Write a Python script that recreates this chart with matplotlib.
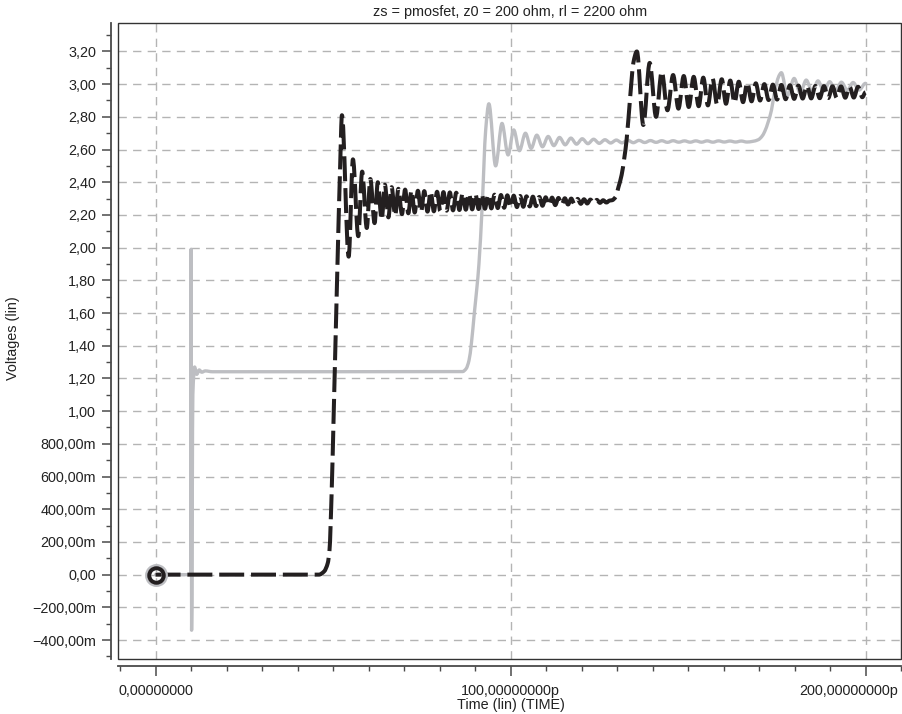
import matplotlib
matplotlib.use("Agg")
import matplotlib.pyplot as plt
from matplotlib.patches import PathPatch, Rectangle
from matplotlib.path import Path
from matplotlib.transforms import ScaledTranslation
from matplotlib.ticker import MultipleLocator, FixedLocator

plt.rcParams["font.family"] = ["Liberation Sans", "DejaVu Sans"]

TITLE = "zs = pmosfet, z0 = 200 ohm, rl = 2200 ohm"
X_LABEL = "Time (lin) (TIME)"
Y_LABEL = "Voltages (lin)"

X_TICKS = [0, 100, 200]
X_TICK_LABELS = ["0,00000000", "100,00000000p", "200,00000000p"]
Y_TICKS = [-0.4, -0.2, 0.0, 0.2, 0.4, 0.6, 0.8, 1.0, 1.2, 1.4, 1.6, 1.8,
           2.0, 2.2, 2.4, 2.6, 2.8, 3.0, 3.2]
Y_TICK_LABELS = ["\u2212400,00m", "\u2212200,00m", "0,00", "200,00m", "400,00m",
                 "600,00m", "800,00m", "1,00", "1,20", "1,40", "1,60", "1,80",
                 "2,00", "2,20", "2,40", "2,60", "2,80", "3,00", "3,20"]

# gray trace (solid): time in ps, volts
gray_t = [0.0, 9.9, 10.0, 10.15, 10.5, 11.0, 11.6, 12.3, 13.0, 14.0, 16.0,
          86.5, 87.5, 88.3, 89.0, 89.8, 90.5, 91.1, 92.0, 93.0, 93.9,
          95.8, 97.6, 99.3, 100.9, 102.5, 104.2, 105.8, 107.4, 109.0, 110.6,
          112.2, 113.8, 115.4, 117.0, 118.6, 120.2, 121.8, 123.4, 125.0, 126.6,
          128.2, 129.8, 131.4, 133.0, 134.6, 136.2, 137.8, 139.4, 141.0, 142.6,
          144.2, 145.8, 147.4, 149.0, 150.6, 152.2, 153.8, 155.4, 157.0, 158.6,
          160.2, 161.8, 163.4, 165.0, 166.6, 168.2,
          169.8, 170.8, 171.6, 172.6, 173.5, 174.2, 174.9, 175.6, 176.3,
          178.0, 179.9, 181.6, 183.3, 185.0, 186.6, 188.3, 189.9, 191.6, 193.2,
          194.9, 196.5, 198.2, 200.0]
gray_v = [0.0, 0.0, 1.99, -0.34, 1.10, 1.27, 1.225, 1.252, 1.238, 1.246, 1.241,
          1.242, 1.26, 1.31, 1.42, 1.60, 1.75, 1.90, 2.25, 2.72, 2.88,
          2.50, 2.76, 2.567, 2.72, 2.593, 2.70, 2.607, 2.688, 2.617, 2.68,
          2.624, 2.674, 2.629, 2.67, 2.633, 2.666, 2.636, 2.663, 2.638, 2.66,
          2.64, 2.658, 2.641, 2.657, 2.642, 2.656, 2.643, 2.655, 2.644, 2.654,
          2.644, 2.654, 2.645, 2.653, 2.645, 2.653, 2.645, 2.653, 2.645, 2.653,
          2.646, 2.652, 2.646, 2.652, 2.646, 2.65,
          2.66, 2.68, 2.71, 2.77, 2.84, 2.93, 3.00, 3.05, 3.07,
          2.93, 3.035, 2.945, 3.025, 2.952, 3.02, 2.957, 3.015, 2.96, 3.012,
          2.962, 3.01, 2.964, 3.005]

# black trace (dashed): time in ps, volts
black_t = [0.0, 46.0, 47.5, 48.5, 49.0, 49.6, 50.2, 51.2, 52.0, 52.5,
           54.4, 55.6, 57.1, 58.2, 59.5, 60.5, 61.7, 62.6, 63.7, 64.6,
           65.6, 66.5, 67.5, 68.4, 69.4, 70.3, 71.2, 72.1, 73.0, 73.9,
           74.8, 75.7, 76.6, 77.5, 78.4, 79.3, 80.2, 81.1, 82.0, 82.9,
           83.8, 84.7, 85.6, 86.5, 87.4, 88.3, 89.2, 90.1, 91.0, 91.9,
           92.8, 93.7, 94.6, 95.5, 96.4, 97.3, 98.2, 99.1, 100.0, 100.9,
           101.8, 102.7, 103.6, 104.5, 105.4, 106.3, 107.2, 108.1, 109.0, 109.9,
           110.8, 111.7, 112.6, 113.5, 114.4, 115.3, 116.2, 117.1, 118.0, 118.9,
           119.8, 120.7, 121.6, 122.5, 123.4, 124.3, 125.2, 126.1, 127.0, 127.9,
           128.6, 129.6, 130.4, 131.3, 132.1, 132.7, 133.7, 134.6, 135.6,
           137.4, 139.2, 141.0, 142.6, 144.2, 145.8, 147.3, 148.8, 150.2, 151.6,
           153.0, 154.3, 155.6, 156.9, 158.2, 159.5, 160.7, 161.9, 163.1, 164.3,
           165.5, 166.7, 167.9, 169.1, 170.3, 171.5, 172.7, 173.9, 175.1, 176.3,
           177.5, 178.7, 179.9, 181.1, 182.3, 183.5, 184.7, 185.9, 187.1, 188.3,
           189.5, 190.7, 191.9, 193.1, 194.3, 195.5, 196.7, 197.9, 199.1, 200.0]
black_v = [0.0, 0.0, 0.02, 0.07, 0.15, 0.50, 1.00, 1.86, 2.50, 2.81,
           1.945, 2.54, 2.07, 2.465, 2.12, 2.42, 2.15, 2.40, 2.17, 2.385,
           2.185, 2.37, 2.195, 2.36, 2.205, 2.355, 2.21, 2.35, 2.215, 2.348,
           2.218, 2.346, 2.22, 2.344, 2.222, 2.342, 2.224, 2.34, 2.226, 2.338,
           2.228, 2.336, 2.23, 2.334, 2.232, 2.332, 2.234, 2.33, 2.236, 2.328,
           2.238, 2.326, 2.24, 2.324, 2.242, 2.322, 2.244, 2.32, 2.246, 2.318,
           2.248, 2.316, 2.25, 2.314, 2.252, 2.312, 2.254, 2.31, 2.256, 2.308,
           2.258, 2.306, 2.26, 2.304, 2.262, 2.302, 2.264, 2.30, 2.266, 2.298,
           2.268, 2.296, 2.27, 2.294, 2.272, 2.292, 2.274, 2.29, 2.276, 2.288,
           2.29, 2.31, 2.37, 2.445, 2.556, 2.66, 2.92, 3.13, 3.20,
           2.75, 3.13, 2.80, 3.077, 2.84, 3.056, 2.85, 3.05, 2.86, 3.045,
           2.865, 3.04, 2.87, 3.035, 2.875, 3.03, 2.88, 3.022, 2.885, 3.015,
           2.89, 3.01, 2.895, 3.005, 2.90, 3.00, 2.903, 2.997, 2.906, 2.995,
           2.908, 2.993, 2.91, 2.991, 2.912, 2.99, 2.913, 2.989, 2.914, 2.988,
           2.915, 2.987, 2.916, 2.986, 2.917, 2.985, 2.918, 2.984, 2.92, 2.95]

GRAY = "#bdbec2"
BLACK = "#231f20"
AXIS = "#4a4a4a"


def smooth_path(t, v):
    """Cubic path through the read points, flat at each peak and trough."""
    n = len(t)
    slopes = []
    for i in range(n):
        if i == 0 or i == n - 1:
            slopes.append(0.0)
        elif (v[i] - v[i - 1]) * (v[i + 1] - v[i]) <= 0:
            slopes.append(0.0)
        else:
            s1 = (v[i] - v[i - 1]) / (t[i] - t[i - 1])
            s2 = (v[i + 1] - v[i]) / (t[i + 1] - t[i])
            slopes.append(2 * s1 * s2 / (s1 + s2))
    verts = [(t[0], v[0])]
    codes = [Path.MOVETO]
    for i in range(n - 1):
        d = (t[i + 1] - t[i]) / 3
        verts += [(t[i] + d, v[i] + d * slopes[i]),
                  (t[i + 1] - d, v[i + 1] - d * slopes[i + 1]),
                  (t[i + 1], v[i + 1])]
        codes += [Path.CURVE4] * 3
    return Path(verts, codes)


def main() -> None:
    fig = plt.figure(figsize=(9.02, 7.14), dpi=100)
    ax = fig.add_axes([118.3 / 902, 1 - 659 / 714, (901 - 118.3) / 902, (659 - 23) / 714])

    ax.set_xlim(-10.5, 210)
    ax.set_ylim(-0.516, 3.374)

    ax.grid(True, which="major", color="#b4b4b4", linestyle=(0, (6, 4.5)), linewidth=1.0)
    ax.set_axisbelow(True)

    ax.add_patch(PathPatch(smooth_path(gray_t, gray_v), fill=False, edgecolor=GRAY,
                           linewidth=2.4, joinstyle="round", capstyle="round", zorder=3))
    ax.add_patch(PathPatch(smooth_path(black_t, black_v), fill=False, edgecolor=BLACK,
                           linewidth=2.9, linestyle=(0, (6.2, 1.7)),
                           joinstyle="round", capstyle="butt", zorder=4))
    ax.plot([0], [0], marker="o", markersize=12, markerfacecolor="none",
            markeredgecolor=GRAY, markeredgewidth=4.5, zorder=5)
    ax.plot([0], [0], marker="o", markersize=10.5, markerfacecolor="none",
            markeredgecolor=BLACK, markeredgewidth=2.8, zorder=6)

    for side in ("top", "right"):
        ax.spines[side].set_visible(False)
    for side in ("left", "bottom"):
        ax.spines[side].set_position(("outward", 5))
        ax.spines[side].set_color(AXIS)
        ax.spines[side].set_linewidth(1.3)
    ax.add_patch(Rectangle((0, 0), 1, 1, transform=ax.transAxes, fill=False,
                           edgecolor="#333333", linewidth=1.0, clip_on=False, zorder=7))

    ax.xaxis.set_major_locator(FixedLocator(X_TICKS))
    ax.xaxis.set_minor_locator(MultipleLocator(10))
    ax.set_xticklabels(X_TICK_LABELS)
    ax.yaxis.set_major_locator(FixedLocator(Y_TICKS))
    ax.yaxis.set_minor_locator(MultipleLocator(0.1))
    ax.set_yticklabels(Y_TICK_LABELS)

    ax.tick_params(axis="both", which="major", direction="out", color=AXIS,
                   width=1.1, labelsize=10.4, labelcolor="#222222")
    ax.tick_params(axis="y", which="major", length=6.5, pad=4.5)
    ax.tick_params(axis="x", which="major", length=7.0, pad=6)
    ax.tick_params(axis="both", which="minor", direction="out", color=AXIS,
                   width=1.0, length=3.5)

    last = ax.get_xticklabels()[-1]
    last.set_transform(last.get_transform() + ScaledTranslation(-0.17, 0, fig.dpi_scale_trans))

    fig.text(510 / 902, 1 - 12 / 714, TITLE, ha="center", va="center",
             fontsize=10.4, color="#222222")
    fig.text(511 / 902, 1 - 705 / 714, X_LABEL, ha="center", va="center",
             fontsize=10.4, color="#222222")
    fig.text(13 / 902, 1 - 338 / 714, Y_LABEL, ha="center", va="center",
             rotation=90, fontsize=10.4, color="#222222")

    fig.savefig("out.png", dpi=100)
    plt.close(fig)


if __name__ == "__main__":
    main()
